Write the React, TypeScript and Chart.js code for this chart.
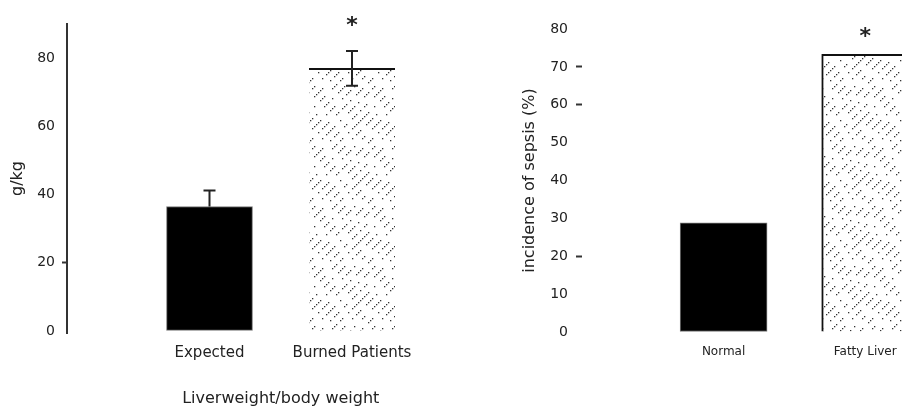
import React, { useEffect, useRef } from "react";
import { Chart, registerables } from "chart.js";

Chart.register(...registerables);

// ---------- data ----------
const leftCategories = ["Expected", "Burned Patients"];
const leftValues = [36.5, 77];
const leftErrUp = [4.7, 5.1];
const leftErrDown = [0, 5.1];
const leftStar: (number | null)[] = [null, 91.3];
const leftYTicks = [0, 20, 40, 60, 80];
const leftTickMarks = [20];
const leftYTitle = "g/kg";
const leftXTitle = "Liverweight/body weight";

const rightCategories = ["Normal", "Fatty Liver"];
const rightValues = [28.8, 73.3];
const rightStar: (number | null)[] = [null, 79.6];
const rightYTicks = [0, 10, 20, 30, 40, 50, 60, 70, 80];
const rightTickMarks = [20, 60, 70];
const rightYTitle = "incidence of sepsis (%)";

const FONT = "'DejaVu Sans', 'Liberation Sans', Arial, sans-serif";
const TEXT = "#222";

// dotted diagonal hatch (fill style)
const HATCH_MASKS = [
  "111110010011100011101100101111",
  "100111101000111010011110001011",
  "011000111110010111000101110100",
  "110011100101111000110111010011",
  "001110110001011111001000111101",
  "101100011111000101110011001110",
];

function makeHatch(): CanvasPattern | string {
  const size = 60;
  const c = document.createElement("canvas");
  c.width = size;
  c.height = size;
  const g = c.getContext("2d");
  if (!g) return "#fff";
  g.fillStyle = "#fff";
  g.fillRect(0, 0, size, size);
  g.fillStyle = "#333";
  HATCH_MASKS.forEach((mask, k) => {
    const off = k * 10;
    for (let i = 0; i < mask.length; i++) {
      if (mask[i] === "1") {
        const x = i * 2;
        const y = (((off - x) % size) + size) % size;
        g.fillRect(x, y, 1.3, 1.3);
      }
    }
  });
  return g.createPattern(c, "repeat") || "#fff";
}

function errorStarPlugin(errUp: number[] | null, errDown: number[] | null, stars: (number | null)[]) {
  return {
    id: "errStar",
    afterDatasetsDraw(chart: any) {
      const ctx = chart.ctx;
      const xs = chart.scales.x;
      const ys = chart.scales.y;
      const ds = chart.data.datasets[0];
      ctx.save();
      ctx.strokeStyle = TEXT;
      ctx.lineWidth = 2;
      ds.data.forEach((p: any, i: number) => {
        const x = xs.getPixelForValue(p.x);
        if (errUp && errDown) {
          const top = ys.getPixelForValue(p.y + errUp[i]);
          const bot = ys.getPixelForValue(p.y - errDown[i]);
          ctx.beginPath();
          ctx.moveTo(x, bot);
          ctx.lineTo(x, top);
          ctx.moveTo(x - 6, top);
          ctx.lineTo(x + 6, top);
          if (errDown[i] > 0) {
            ctx.moveTo(x - 6, bot);
            ctx.lineTo(x + 6, bot);
          }
          ctx.stroke();
        }
        const s = stars[i];
        if (s !== null && s !== undefined) {
          const cy = ys.getPixelForValue(s);
          ctx.fillStyle = TEXT;
          ctx.font = `bold 22px ${FONT}`;
          ctx.textAlign = "center";
          ctx.textBaseline = "alphabetic";
          ctx.fillText("*", x, cy + 12.5);
        }
      });
      ctx.restore();
    },
  };
}

function App() {
  const leftRef = useRef<HTMLCanvasElement>(null);
  const rightRef = useRef<HTMLCanvasElement>(null);

  useEffect(() => {
    const hatch = makeHatch();

    const left = new Chart(leftRef.current as HTMLCanvasElement, {
      type: "bar",
      data: {
        datasets: [
          {
            data: leftCategories.map((_, i) => ({ x: i + 1, y: leftValues[i] })) as any,
            backgroundColor: ["#000", hatch] as any,
            borderColor: ["#777", "#111"],
            borderWidth: [
              { top: 1, left: 1, right: 1, bottom: 1 },
              { top: 2, left: 0, right: 0, bottom: 0 },
            ] as any,
            borderSkipped: false,
            barThickness: 86,
          },
        ],
      },
      options: {
        animation: false,
        responsive: false,
        events: [],
        layout: { padding: { top: 24, right: 5.5, left: 0, bottom: 0 } },
        plugins: { legend: { display: false }, tooltip: { enabled: false } },
        scales: {
          x: {
            type: "linear",
            min: 0,
            max: 3,
            offset: false,
            grid: { display: false, drawTicks: false, offset: false },
            border: { display: false },
            afterBuildTicks: (s: any) => {
              s.ticks = leftCategories.map((_, i) => ({ value: i + 1 }));
            },
            afterFit: (s: any) => {
              s.height = 75;
              s.paddingLeft = 0;
              s.paddingRight = 0;
            },
            ticks: {
              padding: 11,
              color: TEXT,
              font: { family: FONT, size: 15 },
              maxRotation: 0,
              autoSkip: false,
              callback: (v: any) => leftCategories[Number(v) - 1] ?? "",
            },
            title: {
              display: true,
              text: leftXTitle,
              color: TEXT,
              font: { family: FONT, size: 16 },
              padding: { top: 0, bottom: 0 },
            },
          } as any,
          y: {
            min: -0.6,
            max: 90,
            afterBuildTicks: (s: any) => {
              s.ticks = leftYTicks.map((v) => ({ value: v }));
            },
            afterFit: (s: any) => {
              s.width = 67;
            },
            grid: {
              drawOnChartArea: false,
              drawTicks: true,
              tickLength: 5,
              tickWidth: 2,
              tickColor: (c: any) =>
                c.tick && leftTickMarks.includes(c.tick.value) ? "#333" : "rgba(0,0,0,0)",
            },
            border: { display: true, color: "#333", width: 2 },
            ticks: {
              padding: 7,
              color: TEXT,
              font: { family: FONT, size: 14 },
            },
            title: {
              display: true,
              text: leftYTitle,
              color: TEXT,
              font: { family: FONT, size: 16 },
              padding: { top: 8, bottom: 0 },
            },
          } as any,
        },
      },
      plugins: [errorStarPlugin(leftErrUp, leftErrDown, leftStar)],
    });

    const right = new Chart(rightRef.current as HTMLCanvasElement, {
      type: "bar",
      data: {
        datasets: [
          {
            data: rightCategories.map((_, i) => ({ x: i + 1, y: rightValues[i] })) as any,
            backgroundColor: ["#000", hatch] as any,
            borderColor: ["#777", "#111"],
            borderWidth: [
              { top: 1, left: 1, right: 1, bottom: 1 },
              { top: 2, left: 2, right: 2, bottom: 0 },
            ] as any,
            borderSkipped: false,
            barThickness: 87,
          },
        ],
      },
      options: {
        animation: false,
        responsive: false,
        events: [],
        layout: { padding: { top: 29, right: 0, left: 0, bottom: 0 } },
        plugins: { legend: { display: false }, tooltip: { enabled: false } },
        scales: {
          x: {
            type: "linear",
            min: 0,
            max: 2.5,
            offset: false,
            grid: { display: false, drawTicks: false, offset: false },
            border: { display: false },
            afterBuildTicks: (s: any) => {
              s.ticks = rightCategories.map((_, i) => ({ value: i + 1 }));
            },
            afterFit: (s: any) => {
              s.height = 76;
              s.paddingLeft = 0;
              s.paddingRight = 0;
            },
            ticks: {
              padding: 13,
              color: TEXT,
              font: { family: FONT, size: 12 },
              maxRotation: 0,
              autoSkip: false,
              callback: (v: any) => rightCategories[Number(v) - 1] ?? "",
            },
          } as any,
          y: {
            min: 0,
            max: 80,
            afterBuildTicks: (s: any) => {
              s.ticks = rightYTicks.map((v) => ({ value: v }));
            },
            afterFit: (s: any) => {
              s.width = 82;
            },
            grid: {
              drawOnChartArea: false,
              drawTicks: true,
              tickLength: 6,
              tickWidth: 2,
              tickColor: (c: any) =>
                c.tick && rightTickMarks.includes(c.tick.value) ? "#333" : "rgba(0,0,0,0)",
            },
            border: { display: false },
            ticks: {
              padding: 8,
              color: TEXT,
              font: { family: FONT, size: 14 },
            },
            title: {
              display: true,
              text: rightYTitle,
              color: TEXT,
              font: { family: FONT, size: 16 },
              padding: { top: 20, bottom: 0 },
            },
          } as any,
        },
      },
      plugins: [errorStarPlugin(null, null, rightStar)],
    });

    return () => {
      left.destroy();
      right.destroy();
    };
  }, []);

  return (
    <div
      style={{
        position: "fixed",
        left: 0,
        top: 0,
        width: 902,
        height: 408,
        overflow: "hidden",
        background: "#fff",
      }}
    >
      <canvas
        ref={leftRef}
        width={500}
        height={408}
        style={{ position: "absolute", left: 0, top: 0, width: 500, height: 408 }}
      />
      <canvas
        ref={rightRef}
        width={436}
        height={408}
        style={{ position: "absolute", left: 500, top: 0, width: 436, height: 408 }}
      />
    </div>
  );
}

export default App;
